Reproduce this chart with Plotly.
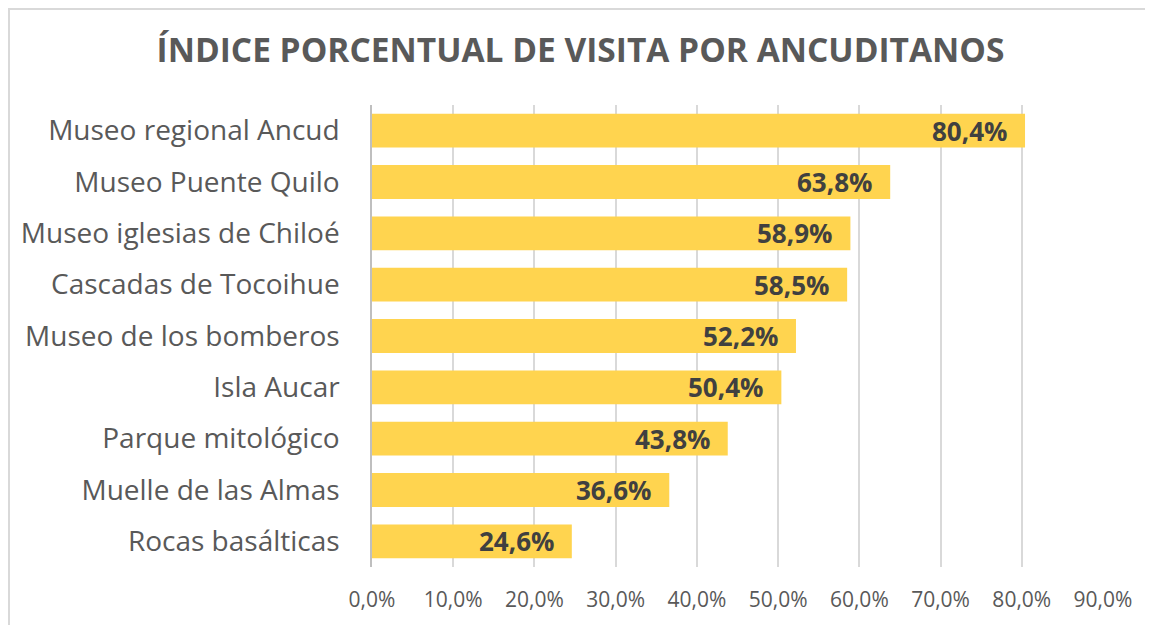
import plotly.graph_objects as go

categories = ["Museo regional Ancud", "Museo Puente Quilo", "Museo iglesias de Chiloé",
              "Cascadas de Tocoihue", "Museo de los bomberos", "Isla Aucar",
              "Parque mitológico", "Muelle de las Almas", "Rocas basálticas"]
values = [0.804, 0.638, 0.589, 0.585, 0.522, 0.504, 0.438, 0.366, 0.246]
tick_vals = [0.0, 0.1, 0.2, 0.3, 0.4, 0.5, 0.6, 0.7, 0.8, 0.9]
tick_text = ["0,0%", "10,0%", "20,0%", "30,0%", "40,0%", "50,0%", "60,0%", "70,0%", "80,0%", "90,0%"]
labels = [f"{v*100:.1f}%".replace(".", ",") for v in values]
title = "ÍNDICE PORCENTUAL DE VISITA POR ANCUDITANOS"

# page has an 8px body margin
W, H = 1145, 617
ml, mr, mt, mb = 364, 50, 97, 58
pw, ph = W - ml - mr, H - mt - mb
FONT = "Open Sans"

fig = go.Figure(go.Bar(
    y=categories, x=values, orientation="h",
    marker=dict(color="#FFD44F", line=dict(width=0)),
    width=0.66, hoverinfo="x+y",
))

for cat, val, lab in zip(categories, values, labels):
    fig.add_annotation(x=val, y=cat, text=lab, showarrow=False,
                       xanchor="right", yanchor="middle", xshift=-16,
                       font=dict(family=FONT, size=26, color="#404040", weight="bold"))

fig.update_layout(
    width=W, height=H,
    margin=dict(l=ml, r=mr, t=mt, b=mb, pad=0),
    paper_bgcolor="white", plot_bgcolor="white",
    showlegend=False,
    title=dict(text=title, x=0.5, xanchor="center", y=1 - 42/H, yanchor="middle",
               font=dict(family=FONT, size=33.5, color="#595959", weight="bold")),
    xaxis=dict(range=[0, 0.9], tickvals=tick_vals, ticktext=tick_text,
               showgrid=True, gridcolor="#D9D9D9", gridwidth=1.5,
               zeroline=False, showline=False, ticks="",
               tickfont=dict(family=FONT, size=21, color="#595959"),
               ticklabelstandoff=18),
    yaxis=dict(autorange="reversed", showgrid=False, zeroline=False,
               showline=True, linecolor="#BFBFBF", linewidth=1.5, ticks="",
               tickfont=dict(family=FONT, size=28, color="#595959"),
               ticklabelstandoff=25),
    shapes=[dict(type="rect", xref="paper", yref="paper",
                 x0=(1 - ml) / pw, x1=(W + 10 - ml) / pw,
                 y0=-(H + 10 - mt - ph) / ph, y1=(H - 1 - mb) / ph,
                 line=dict(color="#D9D9D9", width=2), fillcolor="rgba(0,0,0,0)",
                 layer="below")],
)

fig.write_html("out.html")
